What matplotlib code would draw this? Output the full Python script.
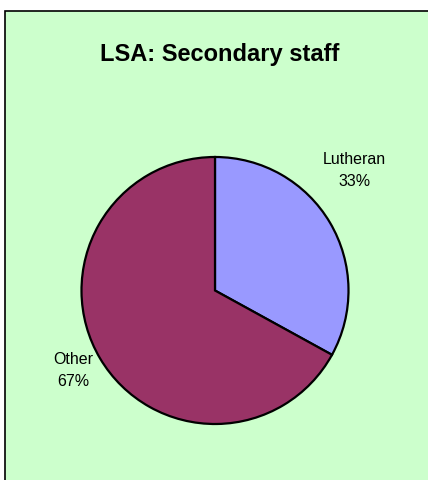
import matplotlib
matplotlib.use("Agg")
import matplotlib.pyplot as plt
from matplotlib.patches import Rectangle

# chart data
categories = ['Lutheran', 'Other']
values = [33, 67]
colors = ['#9999FF', '#993366']
title = 'LSA: Secondary staff'

# label offsets in units of pie radius (layout only)
label_xy = [(1.045, 0.90), (-1.064, -0.60)]

plt.rcParams['font.family'] = ['Liberation Sans', 'DejaVu Sans']

W, H = 428, 480
fig = plt.figure(figsize=(W / 100, H / 100), dpi=100)
fig.patch.set_facecolor('white')

# green chart area with black frame (right/bottom edges are cut off)
fig.patches.append(Rectangle((5 / W, -0.05), 1.1, 1.05 - 11.5 / H, transform=fig.transFigure,
                             facecolor='#CCFFCC', edgecolor='black', linewidth=1.2,
                             zorder=-5))

cx, cy, r = 215, 290.5, 133.5
ax = fig.add_axes([(cx - r) / W, (H - cy - r) / H, 2 * r / W, 2 * r / H])
ax.set_facecolor('none')
ax.set_zorder(2)

wedges, _ = ax.pie(values, colors=colors, startangle=90, counterclock=False,
                   radius=1.0, wedgeprops={'edgecolor': 'black', 'linewidth': 1.6})
ax.set_xlim(-1, 1)
ax.set_ylim(-1, 1)
ax.set_aspect('equal')
ax.axis('off')

total = sum(values)
for name, v, (lx, ly) in zip(categories, values, label_xy):
    ax.text(lx, ly, f"{name}\n{round(100 * v / total)}%", ha='center', va='center',
            fontsize=11.5, color='black', clip_on=False, linespacing=1.6)

fig.text(220 / W, 1 - 61 / H, title, ha='center', va='baseline',
         fontsize=17, fontweight='bold')

fig.savefig('out.png', dpi=100, facecolor=fig.get_facecolor())
